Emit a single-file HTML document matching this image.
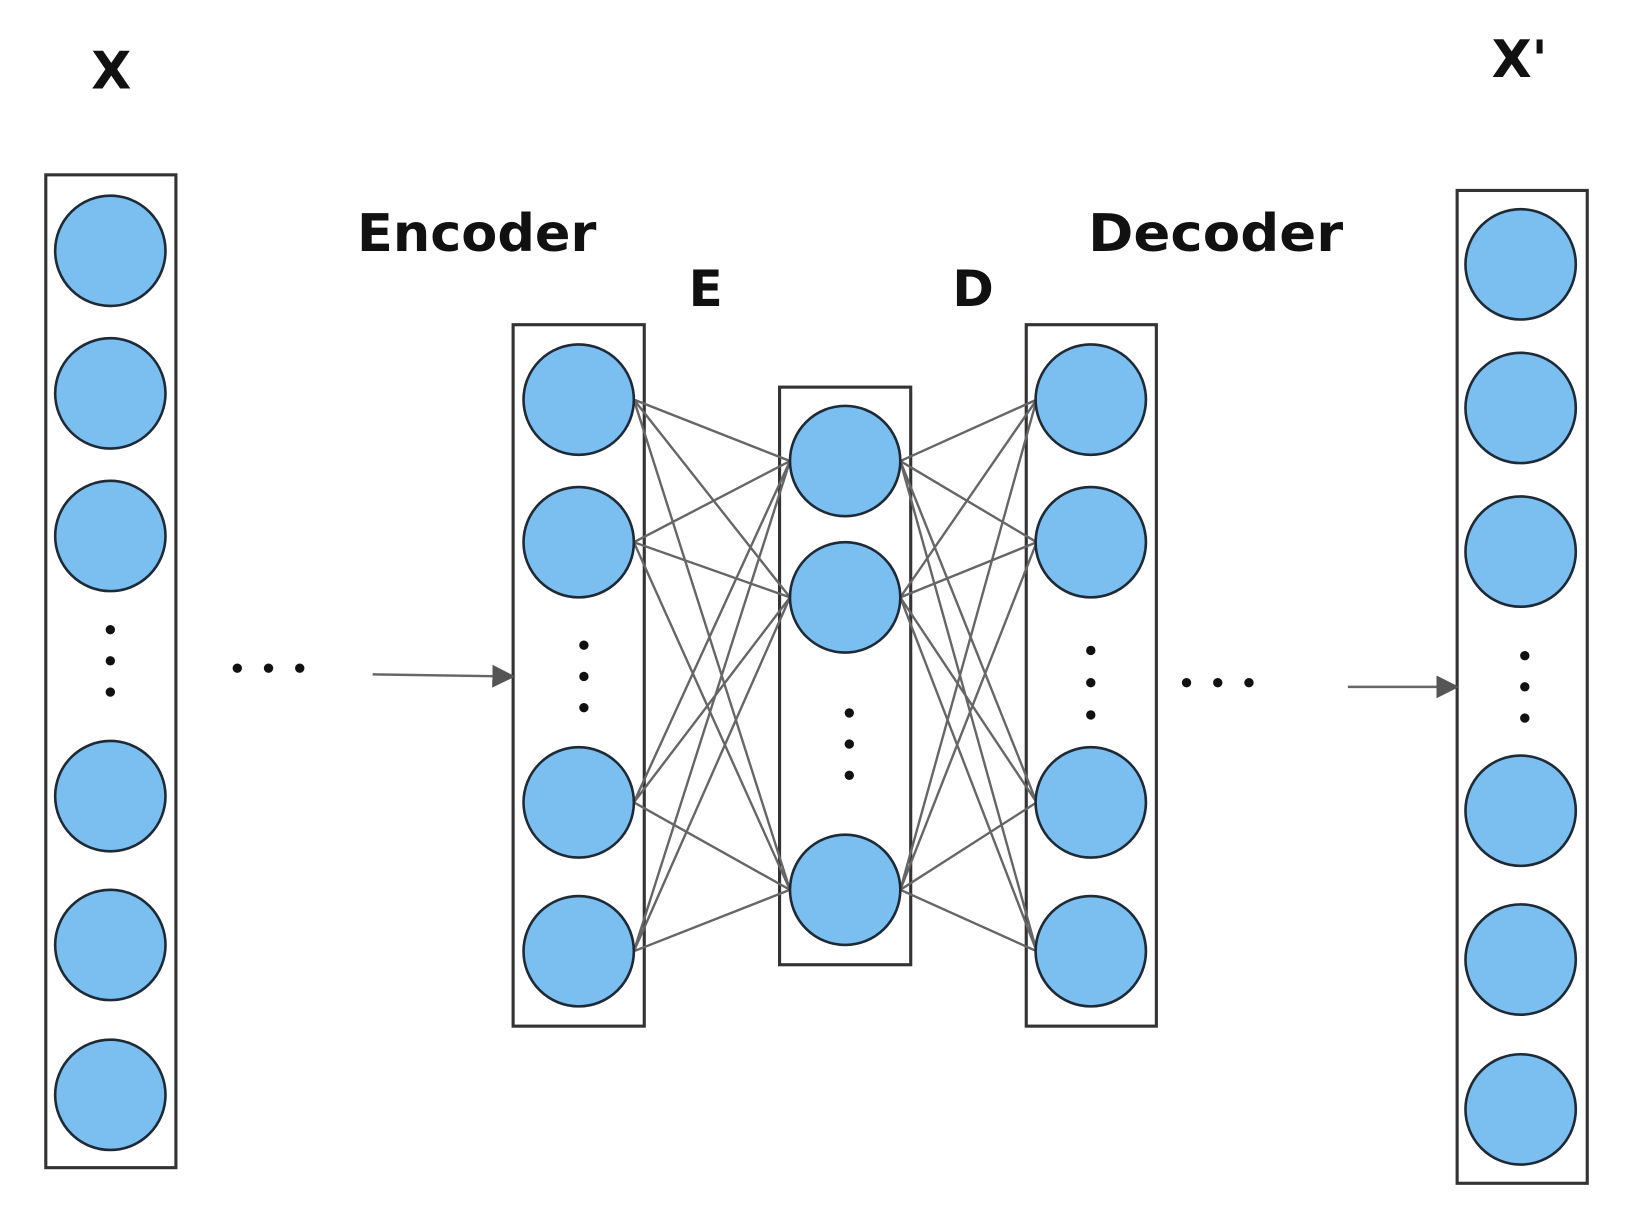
<!DOCTYPE html>
<html><head><meta charset="utf-8"><style>
html,body{margin:0;padding:0;background:#fff;}
svg{display:block;}
text{font-family:"DejaVu Sans","Liberation Sans",sans-serif;font-weight:bold;fill:#111;}
</style></head><body>
<svg width="1632" height="1227" viewBox="0 0 1568 1179" preserveAspectRatio="none" xmlns="http://www.w3.org/2000/svg">
<defs>
<marker id="ar" markerWidth="22" markerHeight="22" refX="20" refY="11" orient="auto" markerUnits="userSpaceOnUse">
<path d="M0,0 L22,11 L0,22 z" fill="#555"/></marker>
</defs>
<g fill="none" stroke="#333" stroke-width="3">
<rect x="44" y="168" width="125" height="954"/>
<rect x="493" y="312" width="126" height="674"/>
<rect x="749" y="372" width="126" height="555"/>
<rect x="986" y="312" width="125" height="674"/>
<rect x="1400" y="183" width="125" height="954"/>
</g>
<g stroke="#666" stroke-width="2.3">
<path d="M609,384L759,443M609,384L759,574M609,384L759,855
M609,521L759,443M609,521L759,574M609,521L759,855
M609,771L759,443M609,771L759,574M609,771L759,855
M609,914L759,443M609,914L759,574M609,914L759,855"/>
<path d="M865,443L996,384M865,443L996,521M865,443L996,771M865,443L996,914
M865,574L996,384M865,574L996,521M865,574L996,771M865,574L996,914
M865,855L996,384M865,855L996,521M865,855L996,771M865,855L996,914"/>
<line x1="358" y1="648" x2="493" y2="650" marker-end="url(#ar)"/>
<line x1="1295" y1="660" x2="1400" y2="660" marker-end="url(#ar)"/>
</g>
<g fill="#7bbff0" stroke="#1e2a36" stroke-width="2.5">
<circle cx="106" cy="241" r="53"/><circle cx="106" cy="378" r="53"/><circle cx="106" cy="515" r="53"/>
<circle cx="106" cy="765" r="53"/><circle cx="106" cy="908" r="53"/><circle cx="106" cy="1052" r="53"/>
<circle cx="556" cy="384" r="53"/><circle cx="556" cy="521" r="53"/><circle cx="556" cy="771" r="53"/><circle cx="556" cy="914" r="53"/>
<circle cx="812" cy="443" r="53"/><circle cx="812" cy="574" r="53"/><circle cx="812" cy="855" r="53"/>
<circle cx="1048" cy="384" r="53"/><circle cx="1048" cy="521" r="53"/><circle cx="1048" cy="771" r="53"/><circle cx="1048" cy="914" r="53"/>
<circle cx="1461" cy="254" r="53"/><circle cx="1461" cy="392" r="53"/><circle cx="1461" cy="530" r="53"/>
<circle cx="1461" cy="779" r="53"/><circle cx="1461" cy="922" r="53"/><circle cx="1461" cy="1066" r="53"/>
</g>
<g fill="#111">
<circle cx="106" cy="605" r="4.5"/><circle cx="106" cy="635" r="4.5"/><circle cx="106" cy="665" r="4.5"/>
<circle cx="561" cy="620" r="4.5"/><circle cx="561" cy="650" r="4.5"/><circle cx="561" cy="680" r="4.5"/>
<circle cx="816" cy="685" r="4.5"/><circle cx="816" cy="715" r="4.5"/><circle cx="816" cy="745" r="4.5"/>
<circle cx="1048" cy="625" r="4.5"/><circle cx="1048" cy="656" r="4.5"/><circle cx="1048" cy="687" r="4.5"/>
<circle cx="1465" cy="630" r="4.5"/><circle cx="1465" cy="660" r="4.5"/><circle cx="1465" cy="690" r="4.5"/>
<circle cx="228" cy="642" r="4.5"/><circle cx="258" cy="642" r="4.5"/><circle cx="288" cy="642" r="4.5"/>
<circle cx="1140" cy="656" r="4.5"/><circle cx="1170" cy="656" r="4.5"/><circle cx="1200" cy="656" r="4.5"/>
</g>
<text x="107" y="85" font-size="50" text-anchor="middle">X</text>
<text x="1460" y="74" font-size="50" text-anchor="middle">X'</text>
<text x="458" y="241" font-size="50" text-anchor="middle" textLength="230" lengthAdjust="spacingAndGlyphs">Encoder</text>
<text x="1168" y="241" font-size="50" text-anchor="middle" textLength="245" lengthAdjust="spacingAndGlyphs">Decoder</text>
<text x="678" y="294" font-size="48" text-anchor="middle">E</text>
<text x="935" y="294" font-size="48" text-anchor="middle">D</text>
</svg>
</body></html>
